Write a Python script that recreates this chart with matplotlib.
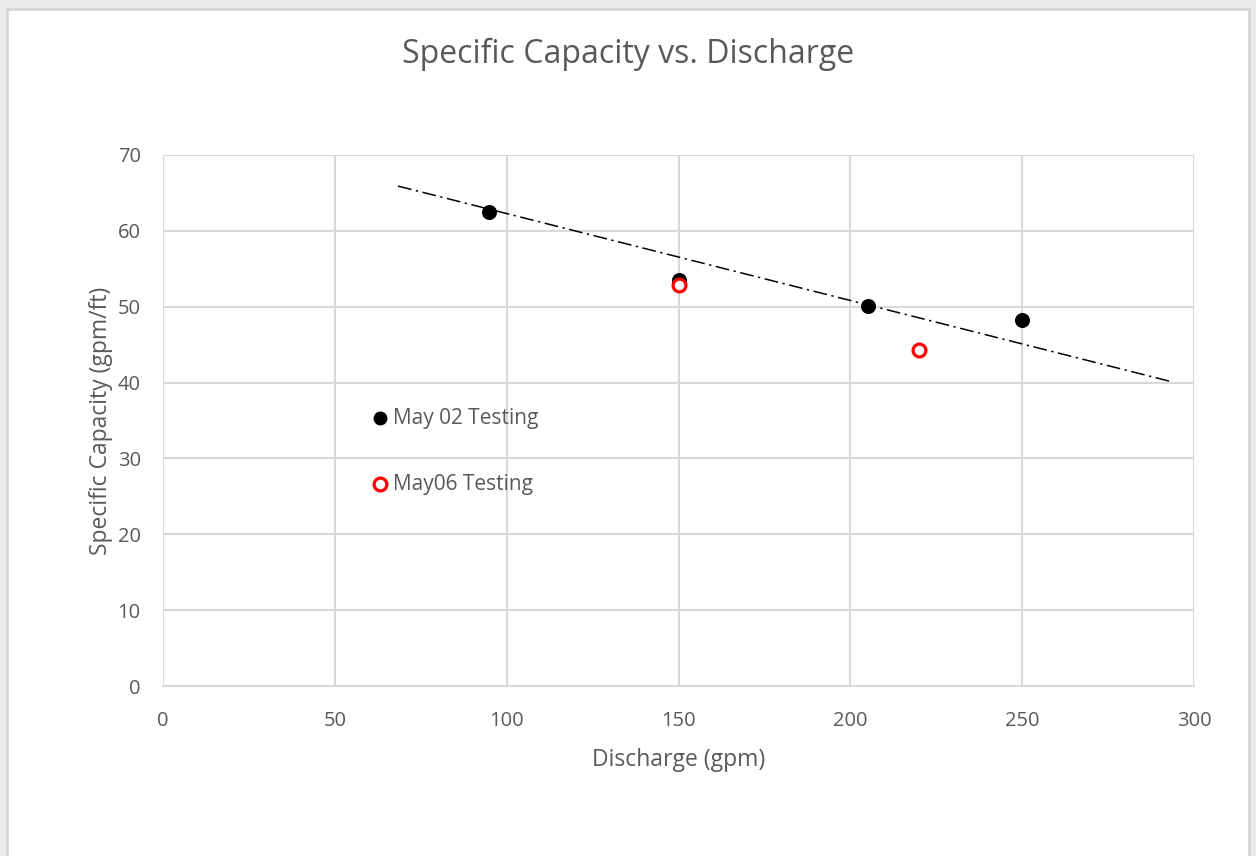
import numpy as np
import matplotlib.pyplot as plt
from matplotlib.patches import Rectangle

# values
may02_x = [95, 150, 205, 250]
may02_y = [62.5, 53.5, 50.1, 48.3]
may06_x = [150, 220]
may06_y = [52.9, 44.3]

# the hand-drawn "legend" points and their labels
label_x = [63, 63]
label_y = [35.3, 26.6]
label_text = ["May 02 Testing", "May06 Testing"]

# dash-dot trend line end points
trend_x = [68.4, 293.6]
trend_y = [65.9, 40.1]

x_ticks = [0, 50, 100, 150, 200, 250, 300]
y_ticks = [0, 10, 20, 30, 40, 50, 60, 70]

plt.rcParams['font.family'] = ['Open Sans', 'DejaVu Sans']
txt = '#595959'
grid = '#d9d9d9'

fig = plt.figure(figsize=(12.56, 8.56), dpi=100, facecolor='#ebebeb')
fig.patches.append(Rectangle((7 / 1256, -0.01), 1242 / 1256, 1.01 - 9 / 856,
                             transform=fig.transFigure, facecolor='white',
                             edgecolor='#d6d6d6', linewidth=2, zorder=-5))

ax = fig.add_axes([163 / 1256, 1 - 686 / 856, 1031 / 1256, 531 / 856])
ax.set_facecolor('none')

ax.plot(trend_x, trend_y, color='black', linewidth=1.1,
        dashes=(9, 3, 1.5, 3), zorder=3)
ax.plot(may02_x, may02_y, 'o', color='black', markersize=9.8, zorder=4)
ax.plot(may06_x, may06_y, 'o', markerfacecolor='white', markeredgecolor='#ff0000',
        markeredgewidth=2.3, markersize=9.2, zorder=5)

ax.plot(label_x[0], label_y[0], 'o', color='black', markersize=9.0, zorder=4)
ax.plot(label_x[1], label_y[1], 'o', markerfacecolor='white', markeredgecolor='#ff0000',
        markeredgewidth=2.3, markersize=9.2, zorder=5)
ax.text(label_x[0] + 4, label_y[0], label_text[0], fontsize=15, color=txt,
        va='center', ha='left')
ax.text(label_x[1] + 4, label_y[1], label_text[1], fontsize=15, color=txt,
        va='center', ha='left')

ax.set_xlim(0, 300)
ax.set_ylim(0, 70)
ax.set_xticks(x_ticks)
ax.set_yticks(y_ticks)
ax.grid(True, color=grid, linewidth=1.5, zorder=0)
ax.set_axisbelow(True)
for s in ['top', 'right', 'left']:
    ax.spines[s].set_visible(False)
ax.spines['bottom'].set_color(grid)
ax.spines['bottom'].set_linewidth(1.5)
ax.tick_params(length=0, labelsize=14.5, labelcolor=txt, pad=18)
ax.tick_params(axis='y', pad=16)

ax.set_xlabel("Discharge (gpm)", fontsize=16.5, color=txt, labelpad=12)
ax.set_ylabel("Specific Capacity (gpm/ft)", fontsize=16.5, color=txt, labelpad=3)
fig.text(628 / 1256, 1 - 54 / 856, "Specific Capacity vs. Discharge",
         fontsize=23, color=txt, ha='center', va='center')

fig.savefig("out.png", dpi=100, facecolor=fig.get_facecolor())
